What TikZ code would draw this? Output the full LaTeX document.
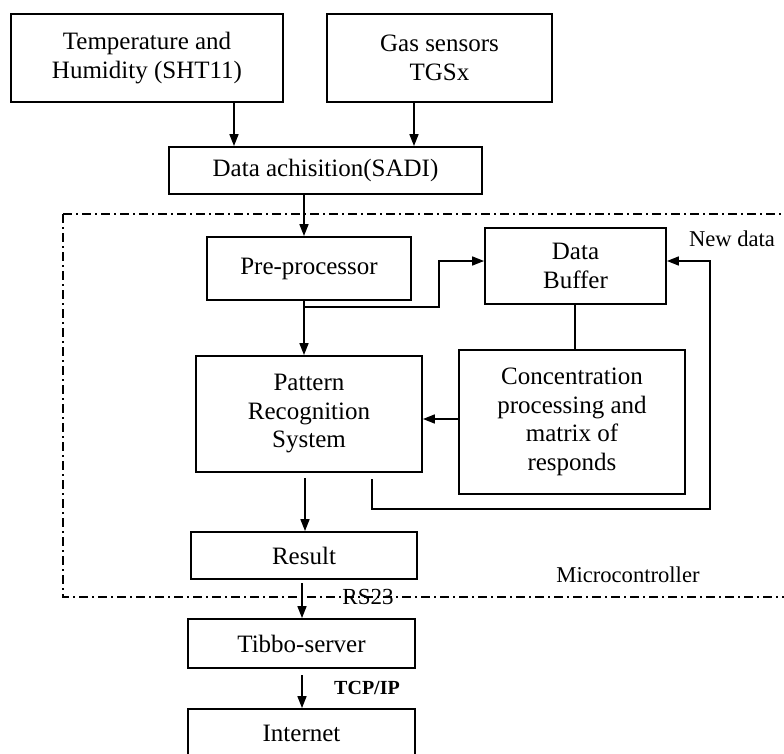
\documentclass[tikz,border=0pt]{standalone}
\usepackage{fontspec}
\setmainfont{Liberation Serif}
\usetikzlibrary{arrows.meta}
\tikzset{
  box/.style={draw, line width=1.8pt, rectangle, inner sep=0pt, align=center,
    font=\fontsize{25}{28.5}\selectfont},
  conn/.style={line width=1.6pt},
  arr/.style={conn, -{Triangle[length=12pt,width=9pt]}},
  lbl/.style={font=\fontsize{22.6}{26}\selectfont, inner sep=0pt},
  frame/.style={line width=1.5pt, dash pattern=on 9pt off 4pt on 2pt off 4pt}
}
\begin{document}
\begin{tikzpicture}[x=1pt,y=-1pt]
\useasboundingbox (0,0) rectangle (784,753);
% frame
\draw[frame] (63,214) -- (800,214);
\draw[frame] (63,214) -- (63,597) -- (800,597);
% boxes
\node[box, minimum width=272pt, minimum height=88pt] (temp) at (147,58) {Temperature and\\Humidity (SHT11)};
\node[box, minimum width=225pt, minimum height=88pt] (gas) at (439.5,58) {Gas sensors\\TGSx};
\node[box, minimum width=313pt, minimum height=47pt] (sadi) at (325.5,170.5) {Data achisition(SADI)};
\node[box, minimum width=204pt, minimum height=63pt] (pre) at (309,268.5) {Pre-processor};
\node[box, minimum width=181pt, minimum height=76pt] (buf) at (575.5,266) {Data\\Buffer};
\node[box, minimum width=226pt, minimum height=116pt] (pat) at (309,414) {Pattern\\Recognition\\System};
\node[box, minimum width=226pt, minimum height=144pt] (conc) at (572,422) {Concentration\\processing and\\matrix of\\responds};
\node[box, minimum width=226pt, minimum height=47pt] (res) at (304,555.5) {Result};
\node[box, minimum width=227pt, minimum height=49pt] (tib) at (301.5,643.5) {Tibbo-server};
\node[box, minimum width=227pt, minimum height=48pt] (inet) at (301.5,733) {Internet};
% labels
\node[lbl] (newdata) at (732,239) {New data};
\node[lbl] (micro) at (628,575) {Microcontroller};
\node[lbl, font=\fontsize{23}{26}\selectfont] (rs) at (368,597) {RS23};
\node[lbl, font=\fontsize{20}{24}\selectfont\bfseries] (tcp) at (367,688) {TCP/IP};
% helper coordinates
\coordinate (xa) at (234,0);
\coordinate (xb) at (414,0);
\coordinate (xc) at (304,0);
\coordinate (brA) at (304,307);
\coordinate (brB) at (439,307);
\coordinate (brC) at (439,261);
\coordinate (xbc) at (575,0);
\coordinate (yc) at (0,419);
\coordinate (fbA) at (372,479);
\coordinate (fbB) at (372,509);
\coordinate (fbC) at (710,509);
\coordinate (fbD) at (710,261);
\coordinate (pr1) at (305,478);
\coordinate (rt1) at (302,583);
\coordinate (ti1) at (302,675);
% connectors
\draw[arr] (temp.south -| xa) -- (sadi.north -| xa);
\draw[arr] (gas.south -| xb) -- (sadi.north -| xb);
\draw[arr] (sadi.south -| xc) -- (pre.north -| xc);
\draw[arr] (pre.south -| xc) -- (pat.north -| xc);
\draw[arr] (brA) -- (brB) -- (brC) -- (buf.west |- brC);
\draw[conn] (buf.south -| xbc) -- (conc.north -| xbc);
\draw[arr] (conc.west |- yc) -- (pat.east |- yc);
\draw[arr] (fbA) -- (fbB) -- (fbC) -- (fbD) -- (buf.east |- fbD);
\draw[arr] (pr1) -- (res.north -| pr1);
\draw[arr] (rt1) -- (tib.north -| rt1);
\draw[arr] (ti1) -- (inet.north -| ti1);
\end{tikzpicture}
\end{document}
